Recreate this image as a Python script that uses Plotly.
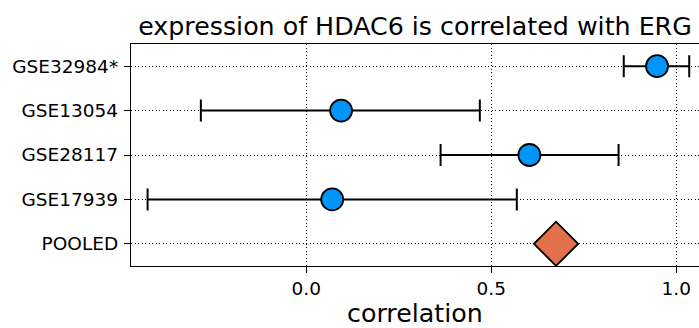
import plotly.graph_objects as go

# Per-study correlation estimates with confidence limits
studies = ["GSE32984*", "GSE13054", "GSE28117", "GSE17939"]
corr = [0.948, 0.094, 0.603, 0.070]
lower = [0.858, -0.285, 0.363, -0.429]
upper = [1.035, 0.469, 0.844, 0.569]

pooled_label = "POOLED"
pooled_corr = 0.675

row_order = studies + [pooled_label]
x_ticks = [0.0, 0.5, 1.0]

title_text = "expression of HDAC6 is correlated with ERG"
x_title = "correlation"

FONT = "DejaVu Sans"

fig = go.Figure()

fig.add_trace(go.Scatter(
    x=corr,
    y=studies,
    mode="markers",
    marker=dict(symbol="circle", size=22, color="#0095F8",
                line=dict(color="black", width=1.8)),
    error_x=dict(
        type="data",
        symmetric=False,
        array=[u - c for u, c in zip(upper, corr)],
        arrayminus=[c - l for c, l in zip(corr, lower)],
        color="black",
        thickness=2,
        width=11,
    ),
    showlegend=False,
    hoverinfo="skip",
))

fig.add_trace(go.Scatter(
    x=[pooled_corr],
    y=[pooled_label],
    mode="markers",
    marker=dict(symbol="diamond", size=34, color="#E2704A",
                line=dict(color="black", width=1.8)),
    showlegend=False,
    hoverinfo="skip",
))

fig.update_layout(
    width=699,
    height=328,
    margin=dict(l=131, r=0, t=44, b=62),
    paper_bgcolor="white",
    plot_bgcolor="white",
    font=dict(family=FONT, size=18.5, color="black"),
    title=dict(
        text=title_text,
        x=0.5,
        xref="paper",
        xanchor="center",
        y=1 - 26 / 328,
        yref="container",
        yanchor="middle",
        font=dict(family=FONT, size=25.3, color="black"),
    ),
    annotations=[dict(
        text=x_title,
        xref="paper", yref="paper",
        x=0.5, y=-(313 - 266) / 222,
        xanchor="center", yanchor="middle",
        showarrow=False,
        font=dict(family=FONT, size=25.3, color="black"),
    )],
)

fig.update_xaxes(
    range=[-0.4738, 1.0614],
    tickvals=x_ticks,
    tickformat=".1f",
    ticks="outside",
    ticklen=6,
    tickwidth=1.3,
    tickcolor="black",
    showline=True,
    linecolor="black",
    linewidth=1.3,
    mirror=True,
    showgrid=True,
    gridcolor="black",
    gridwidth=1,
    griddash="1.3px,2.2px",
    zeroline=False,
)

fig.update_yaxes(
    type="category",
    categoryorder="array",
    categoryarray=row_order,
    range=[len(row_order) - 0.5, -0.5],
    ticks="outside",
    ticklen=6,
    tickwidth=1.3,
    tickcolor="black",
    ticklabelstandoff=2,
    showline=True,
    linecolor="black",
    linewidth=1.3,
    mirror=False,
    showgrid=True,
    gridcolor="black",
    gridwidth=1,
    griddash="1.3px,2.2px",
    zeroline=False,
)

fig.write_html("out.html")
